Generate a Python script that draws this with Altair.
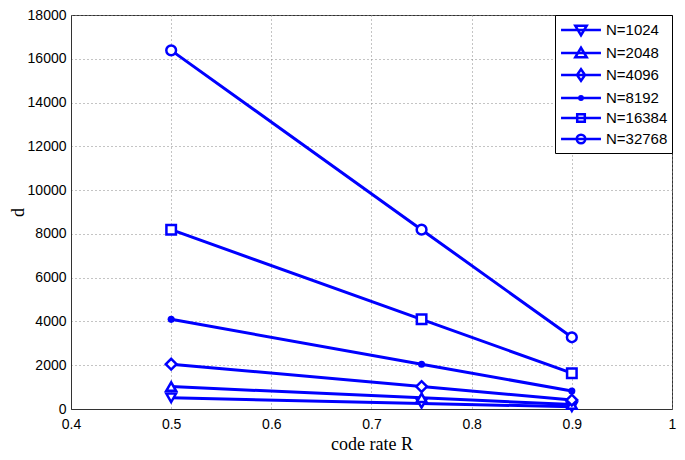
import altair as alt
import pandas as pd

rates = [0.5, 0.75, 0.9]
series_names = ["N=1024", "N=2048", "N=4096", "N=8192", "N=16384", "N=32768"]
d_1024 = [512, 256, 102]
d_2048 = [1024, 512, 205]
d_4096 = [2048, 1024, 410]
d_8192 = [4096, 2048, 819]
d_16384 = [8192, 4096, 1638]
d_32768 = [16384, 8192, 3277]
x_ticks = [0.4, 0.5, 0.6, 0.7, 0.8, 0.9, 1.0]
y_ticks = [0, 2000, 4000, 6000, 8000, 10000, 12000, 14000, 16000, 18000]

all_d = [d_1024, d_2048, d_4096, d_8192, d_16384, d_32768]
rows = []
for name, vals in zip(series_names, all_d):
    for r, v in zip(rates, vals):
        rows.append({"series": name, "R": r, "d": v})
df = pd.DataFrame(rows)

BLUE = "#0000ff"
x_enc = alt.X("R:Q", scale=alt.Scale(domain=[0.4, 1.0], nice=False),
              axis=alt.Axis(values=x_ticks, format="~g", title="code rate R", labelFlush=False))
y_enc = alt.Y("d:Q", scale=alt.Scale(domain=[0, 18000], nice=False),
              axis=alt.Axis(values=y_ticks, format="d", title="d", labelFlush=False))

base = alt.Chart(df)
lines = base.mark_line(color=BLUE, strokeWidth=3).encode(x=x_enc, y=y_enc, detail="series:N")

marker_specs = [
    ("N=1024", "triangle-down", 95, False),
    ("N=2048", "triangle-up", 95, False),
    ("N=4096", "diamond", 115, False),
    ("N=8192", "circle", 50, True),
    ("N=16384", "square", 90, False),
    ("N=32768", "circle", 95, False),
]
point_layers = []
for name, shape, size, filled in marker_specs:
    if filled:
        m = base.mark_point(shape=shape, size=size, filled=True, color=BLUE, opacity=1)
    else:
        m = base.mark_point(shape=shape, size=size, filled=False, fill="white",
                            stroke=BLUE, strokeWidth=2.5, opacity=1, fillOpacity=1)
    point_layers.append(m.encode(x="R:Q", y="d:Q").transform_filter(alt.datum.series == name))

line_part = "M-2.1,0H2.1"
legend_paths = [
    line_part + "M-0.6,-0.45L0.6,-0.45L0,0.55Z",
    line_part + "M-0.6,0.45L0.6,0.45L0,-0.55Z",
    line_part + "M0,-0.6L0.42,0L0,0.6L-0.42,0Z",
    line_part + "M-0.18,0A0.18,0.18 0 1,0 0.18,0A0.18,0.18 0 1,0 -0.18,0Z",
    line_part + "M-0.4,-0.4H0.4V0.4H-0.4Z",
    line_part + "M-0.45,0A0.45,0.45 0 1,0 0.45,0A0.45,0.45 0 1,0 -0.45,0Z",
]
legend_layer = base.mark_point(opacity=0, filled=False).encode(
    x="R:Q", y="d:Q",
    shape=alt.Shape("series:N", scale=alt.Scale(domain=series_names, range=legend_paths),
                    legend=alt.Legend(
                        title=None, orient="none", legendX=484, legendY=0,
                        fillColor="white", strokeColor="black", padding=4,
                        symbolSize=361, symbolStrokeColor=BLUE, symbolFillColor="white",
                        symbolStrokeWidth=2.5, symbolOpacity=1, symbolOffset=11,
                        labelOffset=14, labelFont="Liberation Sans", labelFontSize=15,
                        labelColor="black", rowPadding=1)),
)

chart = alt.layer(lines, *point_layers, legend_layer).properties(
    width=601, height=394,
    autosize=alt.AutoSizeParams(type="none"),
    padding={"left": 63, "top": 7, "right": 5, "bottom": 43},
).configure_view(stroke="#333", strokeWidth=1).configure_axis(
    labelFont="Liberation Sans", labelFontSize=14, labelColor="black",
    titleFont="Liberation Serif", titleFontSize=18, titleFontWeight="normal", titleColor="black",
    domainColor="#333", tickColor="#333", tickSize=0,
    grid=True, gridColor="#888", gridDash=[1, 3], gridOpacity=1, gridWidth=1,
).configure_axisX(labelPadding=8, titlePadding=4).configure_axisY(labelPadding=5, titlePadding=0)

chart.save("out.html", embed_options={"renderer": "svg", "actions": False})
